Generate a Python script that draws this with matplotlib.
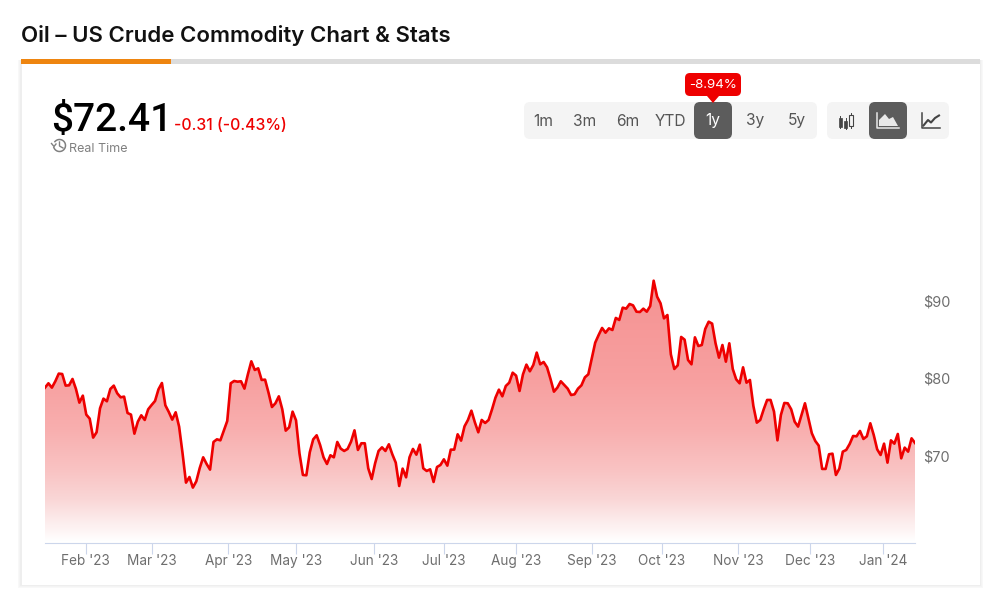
import numpy as np
import matplotlib
matplotlib.use('Agg')
import matplotlib.pyplot as plt
from matplotlib.patches import FancyBboxPatch, Rectangle, Polygon

# price values, oldest first
prices = [
    78.95, 79.51, 78.95, 79.77, 80.76, 80.71, 79.21, 79.25, 80.07, 78.78, 77.01, 77.92, 75.47, 74.95, 72.50,
    73.19, 76.28, 77.53, 77.19, 78.78, 79.21, 78.22, 77.70, 77.79, 75.68, 75.47, 73.01, 74.56, 75.38, 74.78,
    76.15, 76.71, 77.23, 78.73, 79.55, 76.67, 75.81, 74.82, 75.77, 73.92, 70.48, 66.69, 67.42, 66.05, 66.86,
    68.58, 69.96, 69.10, 68.37, 71.94, 72.28, 72.15, 73.40, 74.65, 79.51, 79.81, 79.72, 79.77, 78.82, 80.67,
    82.35, 81.23, 81.44, 79.94, 79.98, 78.30, 76.45, 76.93, 77.83, 76.15, 73.40, 73.83, 75.85, 74.73, 70.48,
    67.68, 67.64, 70.61, 72.28, 72.80, 71.55, 69.96, 69.10, 70.22, 69.96, 71.94, 71.08, 70.78, 71.04, 71.98,
    73.44, 70.91, 71.77, 71.77, 68.54, 67.16, 69.19, 70.78, 71.25, 70.78, 71.64, 70.35, 69.27, 66.26, 68.50,
    67.38, 69.96, 71.04, 70.30, 71.59, 68.54, 68.20, 68.41, 66.78, 68.71, 68.97, 69.70, 68.88, 70.95, 70.95,
    72.93, 72.11, 73.96, 74.78, 75.98, 74.48, 73.19, 74.78, 74.39, 74.78, 76.15, 77.66, 78.69, 77.83, 79.16,
    79.59, 80.88, 80.50, 78.52, 80.67, 81.92, 81.06, 81.87, 83.47, 81.96, 82.26, 81.57, 80.07, 78.43, 78.95,
    79.77, 79.29, 78.82, 78.00, 78.09, 78.82, 79.25, 80.28, 80.67, 82.73, 84.75, 85.74, 86.65, 86.04, 86.60,
    86.39, 87.94, 87.68, 89.27, 89.14, 89.74, 89.57, 88.75, 88.71, 89.14, 88.75, 89.48, 92.75, 90.69, 89.83,
    87.89, 88.32, 83.25, 81.36, 81.83, 85.49, 85.14, 82.52, 81.96, 85.44, 84.32, 84.45, 86.52, 87.46, 87.21,
    84.67, 82.82, 84.45, 82.30, 84.67, 81.36, 80.02, 79.51, 81.57, 79.59, 79.94, 76.58, 74.43, 74.78, 76.15,
    77.36, 77.36, 75.85, 72.15, 75.42, 76.97, 76.93, 76.15, 74.56, 73.92, 75.42, 76.93, 74.99, 73.06, 72.07,
    71.47, 68.46, 68.46, 70.35, 70.43, 67.68, 68.50, 70.69, 70.91, 71.68, 72.71, 72.67, 73.36, 72.33, 72.67,
    74.35, 72.84, 70.99, 70.26, 71.72, 69.27, 72.15, 71.72, 72.97, 69.83, 71.21, 70.69, 72.41, 71.81,
]
month_labels = ["Feb '23", "Mar '23", "Apr '23", "May '23", "Jun '23", "Jul '23",
                "Aug '23", "Sep '23", "Oct '23", "Nov '23", "Dec '23", "Jan '24"]
month_pos = [11.8, 31.1, 53.3, 72.9, 95.8, 116.1, 136.9, 159.1, 179.4, 201.6, 222.6, 243.8]
y_ticks = [70, 80, 90]
ranges = ['1m', '3m', '6m', 'YTD', '1y', '3y', '5y']
range_x = [543, 585, 628, 670, 713, 755, 797]

W, H = 988, 616
plt.rcParams['font.family'] = ['Inter', 'DejaVu Sans']

fig = plt.figure(figsize=(W / 100, H / 100), dpi=100, facecolor='white')

# pixel-coordinates layer for the page furniture
ui = fig.add_axes([0, 0, 1, 1])
ui.set_xlim(0, W)
ui.set_ylim(H, 0)
ui.axis('off')


def box(x0, y0, x1, y1, color, r=6, z=2):
    ui.add_patch(FancyBboxPatch((x0 + r, y0 + r), x1 - x0 - 2 * r, y1 - y0 - 2 * r,
                                boxstyle=f'round,pad={r},rounding_size={r}',
                                fc=color, ec='none', zorder=z))


# card with a soft shadow
for grow, col in [(3, '#f8f8f8'), (2, '#f4f4f4'), (1, '#eeeeee')]:
    ui.add_patch(Rectangle((21 - grow, 60), 959 + 2 * grow, 525 + grow, fc=col, ec='none', zorder=0))
ui.add_patch(Rectangle((21.5, 60), 958, 525, fc='white', ec='none', zorder=1))
ui.add_patch(Rectangle((21, 59), 959, 5, fc='#dcdcdc', ec='none', zorder=2))
ui.add_patch(Rectangle((21, 59), 150, 5, fc='#ee8510', ec='none', zorder=3))

ui.text(21, 41.5, 'Oil – US Crude Commodity Chart & Stats', fontsize=16.0, fontweight='semibold',
        color='#111111', va='baseline', ha='left')
ui.text(51, 131, '$72.41', fontsize=28, fontweight='medium', color='#000000', va='baseline', ha='left',
        family=['Roboto', 'DejaVu Sans'])
ui.text(174, 130, '-0.31 (-0.43%)', fontsize=11.4, fontweight='medium', color='#ee0000', va='baseline', ha='left')
ui.text(69, 151.5, 'Real Time', fontsize=9, color='#808080', va='baseline', ha='left')

# clock-with-arrow icon
ang = np.radians(np.arange(-140, 170, 10))
ui.plot(59.5 + 6 * np.cos(ang), 145.5 + 6 * np.sin(ang), color='#808080', lw=1.1, zorder=3)
ui.plot([59.5, 59.5, 63], [142, 146, 148], color='#808080', lw=1, zorder=3)
ui.plot([51.5, 54, 56], [143.5, 146.5, 144], color='#808080', lw=1, zorder=3)

# range buttons
box(524, 102, 817, 139, '#f4f4f4')
box(694, 102, 732, 139, '#5c5c5c', z=3)
for lab, x in zip(ranges, range_x):
    ui.text(x, 121, lab, fontsize=11.2, color='white' if lab == '1y' else '#555555',
            va='center', ha='center', zorder=4)

# percent bubble
box(685, 73, 741, 96, '#ee0000', r=5, z=4)
ui.add_patch(Polygon([[707, 96], [719, 96], [713, 103]], fc='#ee0000', ec='none', zorder=4))
ui.text(713, 84.5, '-8.94%', fontsize=9.6, color='white', va='center', ha='center', zorder=5)

# chart type buttons
box(827, 102, 949, 139, '#f4f4f4')
box(869, 102, 907, 139, '#5c5c5c', z=3)
icon = '#444444'
ui.plot([840, 840], [116, 128], color=icon, lw=0.7, zorder=4)
ui.add_patch(Rectangle((838.5, 118), 3, 8.5, fc=icon, ec=icon, lw=0.5, zorder=5))
ui.plot([845.5, 845.5], [118, 129], color=icon, lw=0.7, zorder=4)
ui.add_patch(Rectangle((844.3, 121), 2.4, 6.5, fc=icon, ec=icon, lw=0.5, zorder=5))
ui.plot([851, 851], [113, 128], color=icon, lw=0.7, zorder=4)
ui.add_patch(Rectangle((849.3, 115), 3.4, 10.5, fc='#f4f4f4', ec=icon, lw=0.8, zorder=5))
ui.plot([876.5, 876.5, 899], [113, 128, 128], color='#e8e8e8', lw=1.1, zorder=4)
ui.add_patch(Polygon([[879, 126], [879, 120], [885, 114], [889, 119], [893, 117], [898, 126]],
                     fc='#e8e8e8', ec='none', zorder=4))
ui.plot([922, 922, 940], [113, 127.5, 127.5], color=icon, lw=1.1, zorder=4)
ui.plot([923.5, 928, 931, 935, 939], [125.5, 120, 122.5, 118, 115.5], color=icon, lw=1.5, zorder=4)

# price chart, placed so that the value axis lines up with the picture
px_per_usd = 7.75
y_bottom, y_top = 542.5, 180
ax = fig.add_axes([45 / W, 1 - y_bottom / H, 870 / W, (y_bottom - y_top) / H])
ax.patch.set_alpha(0)
xs = np.arange(len(prices))
ax.set_xlim(0, len(prices) - 1)
ax.set_ylim(70 - (y_bottom - 457) / px_per_usd, 70 + (457 - y_top) / px_per_usd)

# vertical fade under the line, given as green/blue level per pixel row
rows = np.arange(y_top, y_bottom)
level = np.interp(rows, [280, 380, 430, 470, 500, 525, 541], [146, 160, 175, 195, 215, 240, 255])
red = np.interp(rows, [280, 500, 541], [245, 250, 255])
grad = np.stack([red, level, level], axis=1)[:, None, :] / 255
img = ax.imshow(grad, extent=[0, len(prices) - 1, ax.get_ylim()[0], ax.get_ylim()[1]],
                aspect='auto', origin='upper', zorder=1)
fill = ax.fill_between(xs, prices, ax.get_ylim()[0], fc='none', ec='none')
img.set_clip_path(fill.get_paths()[0], transform=ax.transData)
ax.plot(xs, prices, color='#ee0000', lw=1.9, solid_joinstyle='round', zorder=3)

for s in ['top', 'left', 'right']:
    ax.spines[s].set_visible(False)
ax.spines['bottom'].set_color('#ccd6eb')
ax.spines['bottom'].set_linewidth(0.8)
ax.set_xticks(month_pos)
ax.set_xticklabels(month_labels, fontsize=9.8, color='#6e6e6e')
ax.tick_params(axis='x', length=8, width=0.8, color='#ccd6eb', pad=0.2)
ax.yaxis.tick_right()
ax.set_yticks(y_ticks)
ax.set_yticklabels([f'${v}' for v in y_ticks], fontsize=10.4, color='#6e6e6e', va='center')
ax.tick_params(axis='y', length=0, pad=5.5)

fig.savefig('out.png', dpi=100)
